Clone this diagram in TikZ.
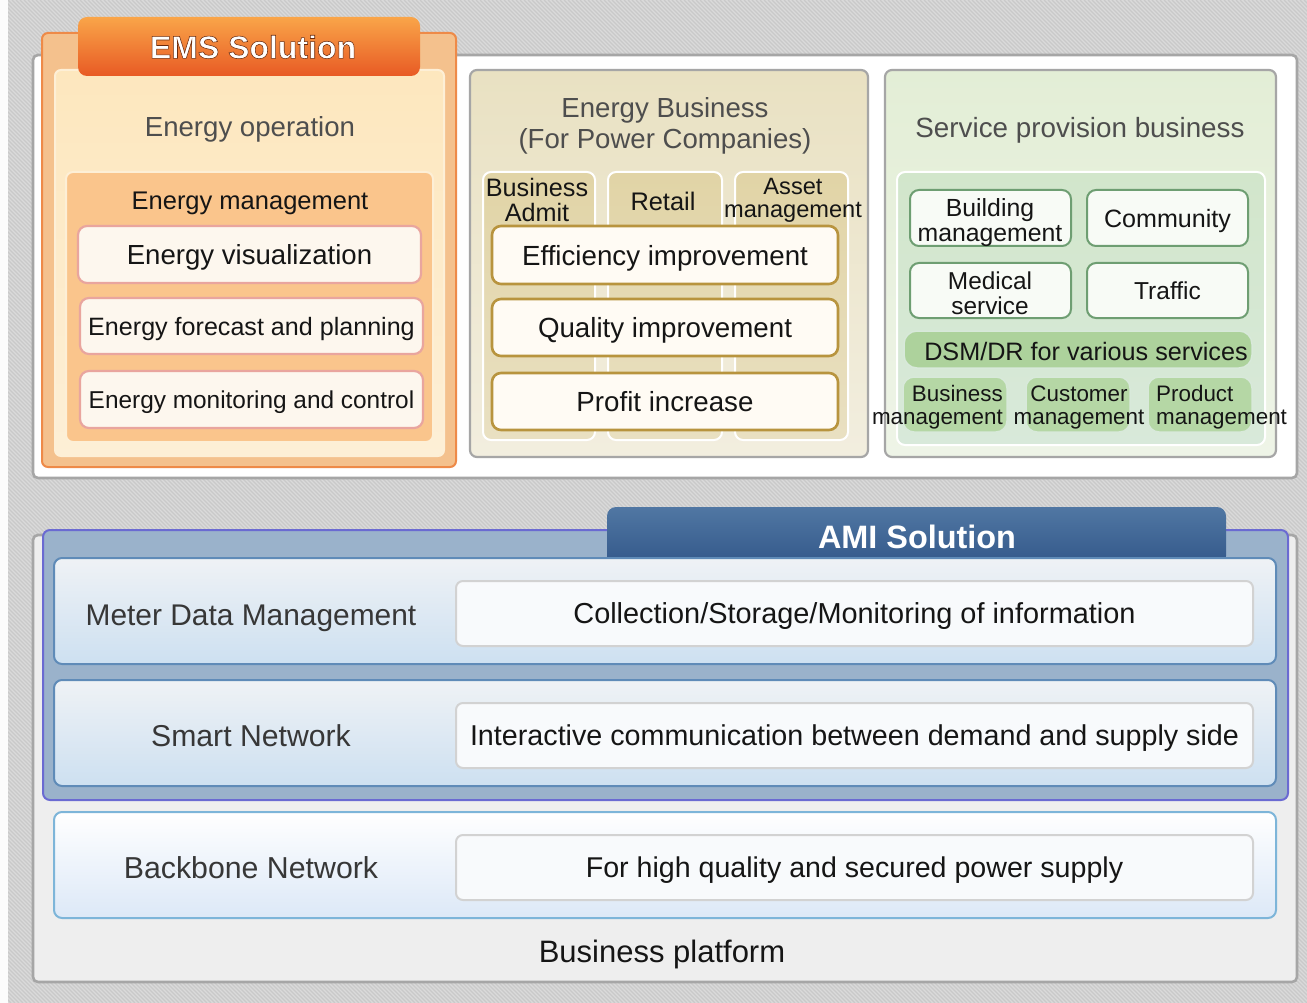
\documentclass[tikz,border=0pt]{standalone}
\usepackage{fontspec}
\setmainfont{Liberation Sans}

\definecolor{hatchbg}{HTML}{DADADA}
\definecolor{hatchln}{HTML}{C9C9C9}
\definecolor{panelln}{HTML}{A6A6A6}
\definecolor{titlegray}{HTML}{4E4E4E}
\definecolor{inkc}{HTML}{151515}
% EMS colours
\definecolor{emsframe}{HTML}{EE8A48}
\definecolor{emsfill}{HTML}{F4C18D}
\definecolor{emscream}{HTML}{FDE7BE}
\definecolor{emscreamb}{HTML}{FDEFD6}
\definecolor{emsmgmt}{HTML}{FAC58C}
\definecolor{emsitem}{HTML}{FDF7EE}
\definecolor{emsitemln}{HTML}{E9A59E}
\definecolor{emstabtop}{HTML}{F9A549}
\definecolor{emstabbot}{HTML}{E85A24}
% Energy business colours
\definecolor{ebtop}{HTML}{E9E1C2}
\definecolor{ebbot}{HTML}{F2EEDF}
\definecolor{ebcol}{HTML}{E1D4A6}
\definecolor{ebcolb}{HTML}{E9E0C2}
\definecolor{ebitem}{HTML}{FFFBF4}
\definecolor{ebitemln}{HTML}{B8943E}
% Service provision colours
\definecolor{sptop}{HTML}{E3EED6}
\definecolor{spbot}{HTML}{EEF4E7}
\definecolor{spin}{HTML}{D2E6CB}
\definecolor{spinb}{HTML}{D8E9DA}
\definecolor{spitem}{HTML}{F8FBF6}
\definecolor{spitemln}{HTML}{6E9E72}
\definecolor{spdsm}{HTML}{ADD29C}
\definecolor{spsmall}{HTML}{B5D7A5}
% AMI colours
\definecolor{amiframe}{HTML}{9AB2CB}
\definecolor{amiframeln}{HTML}{6A6AD2}
\definecolor{amitabtop}{HTML}{5077A3}
\definecolor{amitabbot}{HTML}{33588A}
\definecolor{rowtop}{HTML}{EFF2F5}
\definecolor{rowbot}{HTML}{CDE0F1}
\definecolor{rowln}{HTML}{5F8BB8}
\definecolor{bbtop}{HTML}{FFFFFF}
\definecolor{bbbot}{HTML}{DCE8F7}
\definecolor{bbln}{HTML}{7DB5D9}
\definecolor{cellfill}{HTML}{F8FAFC}
\definecolor{cellln}{HTML}{D2D2D2}
\definecolor{platform}{HTML}{EEEEEE}

\newcommand{\fsz}[1]{\fontsize{#1pt}{#1pt}\selectfont}
% white lettering with a thin dark stroke round each glyph (fill + stroke render mode)
\newcommand{\strokedtext}[1]{\special{pdf:literal direct 2 Tr 0.55 w 0.42 0.17 0.05 RG}#1\special{pdf:literal direct 0 Tr}}

\tikzset{
  boxbase/.style={anchor=north west, inner sep=0pt, outer sep=0pt, text depth=0pt},
  panel/.style={boxbase, draw=panelln, line width=2.6pt, fill=white, rounded corners=5pt},
  platformbox/.style={panel, fill=platform},
  emsframebox/.style={boxbase, draw=emsframe, line width=2pt, fill=emsfill, rounded corners=6pt},
  emscreambox/.style={boxbase, draw=emscreamb, line width=2pt, top color=emscream, bottom color=emscreamb, rounded corners=6pt},
  emstab/.style={boxbase, top color=emstabtop, bottom color=emstabbot, rounded corners=9pt},
  emsmgmtbox/.style={boxbase, draw=emscreamb, line width=2pt, fill=emsmgmt, rounded corners=7pt},
  emsitembox/.style={boxbase, draw=emsitemln, line width=2.2pt, fill=emsitem, rounded corners=9pt, text=inkc},
  ebpanel/.style={boxbase, draw=panelln, line width=2.2pt, top color=ebtop, bottom color=ebbot, rounded corners=7pt},
  ebcolumn/.style={boxbase, draw=white, line width=2pt, top color=ebcol, bottom color=ebcolb, rounded corners=8pt},
  ebitembox/.style={boxbase, draw=ebitemln, line width=2.6pt, fill=ebitem, rounded corners=9pt, text=inkc},
  sppanel/.style={boxbase, draw=panelln, line width=2.2pt, top color=sptop, bottom color=spbot, rounded corners=7pt},
  spinner/.style={boxbase, draw=white, line width=2pt, top color=spin, bottom color=spinb, rounded corners=8pt},
  spitembox/.style={boxbase, draw=spitemln, line width=2pt, fill=spitem, rounded corners=9pt, text=inkc},
  spdsmbox/.style={boxbase, draw=spinb, line width=1.5pt, fill=spdsm, rounded corners=13pt},
  spsmallbox/.style={boxbase, draw=spinb, line width=1.5pt, fill=spsmall, rounded corners=11pt},
  amiframebox/.style={boxbase, draw=amiframeln, line width=2pt, fill=amiframe, rounded corners=7pt},
  amitab/.style={boxbase, top color=amitabtop, bottom color=amitabbot, rounded corners=9pt},
  amirow/.style={boxbase, draw=rowln, line width=2pt, top color=rowtop, bottom color=rowbot, rounded corners=8pt},
  bbrow/.style={boxbase, draw=bbln, line width=2pt, top color=bbtop, bottom color=bbbot, rounded corners=8pt},
  cell/.style={boxbase, draw=cellln, line width=2pt, fill=cellfill, rounded corners=7pt, text=inkc},
  title/.style={inner sep=0pt, text=titlegray, text depth=0pt},
  label/.style={inner sep=0pt, text=inkc, align=center, text depth=0pt},
}

\begin{document}
\begin{tikzpicture}[x=1pt, y=-1pt]
\useasboundingbox (0,0) rectangle (1307,1003);

% hatched backdrop
\fill[hatchbg] (0,0) rectangle (1307,1003);
\begin{scope}
  \clip (0,0) rectangle (1307,1003);
  \foreach \i in {-1012,-1008,...,1310}
    \draw[hatchln, line width=1.3pt] (\i,0) -- ++(1003,1003);
\end{scope}
\fill[white!92!hatchbg] (0,0) rectangle (8,1003);

% ---------------- upper panel ----------------
\node[panel, minimum width=1264pt, minimum height=423pt] (upper) at (33,55) {};

% EMS solution
\node[emsframebox, minimum width=414pt, minimum height=434pt] (emsframe) at (42,33) {};
\node[emscreambox, minimum width=389pt, minimum height=386pt] (emscream) at (55,70) {};
\node[emstab, minimum width=342pt, minimum height=59pt] (emstab) at (78,17) {};
\node[inner sep=0pt, text=white, font=\bfseries\fsz{32}] (emstitle) at (253,47) {\strokedtext{EMS Solution}};
\node[title, font=\fsz{27.6}] (energyop) at (250,127) {Energy operation};
\node[emsmgmtbox, minimum width=367pt, minimum height=270pt] (emsmgmt) at (66,172) {};
\node[label, font=\fsz{25.5}] (emsmgmttitle) at (250,201) {Energy management};
\node[emsitembox, minimum width=343pt, minimum height=57pt, font=\fsz{27.6}] (visual) at (78,226) {Energy visualization};
\node[emsitembox, minimum width=343pt, minimum height=56pt, font=\fsz{25.1}] (forecast) at (80,298) {Energy forecast and planning};
\node[emsitembox, minimum width=343pt, minimum height=57pt, font=\fsz{24.4}] (monitor) at (80,371) {Energy monitoring and control};

% Energy business
\node[ebpanel, minimum width=398pt, minimum height=387pt] (ebpanel) at (470,70) {};
\node[title, font=\fsz{27.6}] (ebtitle) at (665,108) {Energy Business};
\node[title, font=\fsz{27.6}] (ebsub) at (665,139) {(For Power Companies)};
\node[ebcolumn, minimum width=112pt, minimum height=268pt] (colA) at (483,172) {};
\node[ebcolumn, minimum width=114pt, minimum height=268pt] (colB) at (608,172) {};
\node[ebcolumn, minimum width=113pt, minimum height=268pt] (colC) at (735,172) {};
\node[label, font=\fsz{25.2}] (colAtxt) at (537,200) {Business\\Admit};
\node[label, font=\fsz{25.4}] (colBtxt) at (663,201) {Retail};
\node[label, font=\fsz{23.6}] (colCtxt) at (793,198) {Asset\\management};
\node[ebitembox, minimum width=346pt, minimum height=58pt, font=\fsz{27.7}] (effic) at (492,226) {Efficiency improvement};
\node[ebitembox, minimum width=346pt, minimum height=57pt, font=\fsz{27.7}] (quality) at (492,299) {Quality improvement};
\node[ebitembox, minimum width=346pt, minimum height=57pt, font=\fsz{27.7}] (profit) at (492,373) {Profit increase};

% Service provision business
\node[sppanel, minimum width=391pt, minimum height=387pt] (sppanel) at (885,70) {};
\node[title, font=\fsz{27.8}] (sptitle) at (1080,127) {Service provision business};
\node[spinner, minimum width=368pt, minimum height=273pt] (spinner) at (897,172) {};
\node[spitembox, minimum width=161pt, minimum height=56pt] (building) at (910,190) {};
\node[label, font=\fsz{24.8}] (buildingtxt) at (990,220) {Building\\management};
\node[spitembox, minimum width=161pt, minimum height=56pt, font=\fsz{25.1}] (community) at (1087,190) {Community};
\node[spitembox, minimum width=161pt, minimum height=55pt] (medical) at (910,263) {};
\node[label, font=\fsz{24.4}] (medicaltxt) at (990,293) {Medical\\service};
\node[spitembox, minimum width=161pt, minimum height=55pt, font=\fsz{24.5}] (traffic) at (1087,263) {Traffic};
\node[spdsmbox, minimum width=348pt, minimum height=37pt] (dsm) at (904,331) {};
\node[label, font=\fsz{25.2}] (dsmtxt) at (1086,351) {DSM/DR for various services};
\node[spsmallbox, minimum width=104pt, minimum height=55pt] (smallA) at (903,377) {};
\node[spsmallbox, minimum width=104pt, minimum height=55pt] (smallB) at (1026,377) {};
\node[spsmallbox, minimum width=104pt, minimum height=55pt] (smallC) at (1148,377) {};
\node[label, font=\fsz{22.4}, align=right, anchor=east] (smallAtxt) at (1003,405) {Business\\management};
\node[label, font=\fsz{22.4}] (smallBtxt) at (1079,405) {Customer\\management};
\node[label, font=\fsz{22.4}, align=left, anchor=west] (smallCtxt) at (1156,405) {Product\\management};

% ---------------- lower panel ----------------
\node[platformbox, minimum width=1264pt, minimum height=447pt] (platformbox) at (33,535) {};

% AMI solution
\node[amiframebox, minimum width=1245pt, minimum height=270pt] (amiframe) at (43,530) {};
\node[amitab, minimum width=619pt, minimum height=58pt] (amitab) at (607,507) {};
\node[inner sep=0pt, text=white, font=\bfseries\fsz{32.4}] (amititle) at (917,537) {AMI Solution};

\node[amirow, minimum width=1222pt, minimum height=106pt] (mdmrow) at (54,558) {};
\node[label, font=\fsz{29.9}, text=titlegray!70!black] (mdm) at (251,615) {Meter Data Management};
\node[cell, minimum width=797pt, minimum height=65pt, font=\fsz{28.9}] (mdmcell) at (456,581) {Collection/Storage/Monitoring of information};

\node[amirow, minimum width=1222pt, minimum height=106pt] (snrow) at (54,680) {};
\node[label, font=\fsz{30.2}, text=titlegray!70!black] (sn) at (251,736) {Smart Network};
\node[cell, minimum width=797pt, minimum height=65pt, font=\fsz{28.7}] (sncell) at (456,703) {Interactive communication between demand and supply side};

% Backbone
\node[bbrow, minimum width=1222pt, minimum height=106pt] (bbrow) at (54,812) {};
\node[label, font=\fsz{30.3}, text=titlegray!70!black] (bb) at (251,868) {Backbone Network};
\node[cell, minimum width=797pt, minimum height=65pt, font=\fsz{28.6}] (bbcell) at (456,835) {For high quality and secured power supply};

\node[label, font=\fsz{31}] (platform) at (662,951) {Business platform};
\end{tikzpicture}
\end{document}
